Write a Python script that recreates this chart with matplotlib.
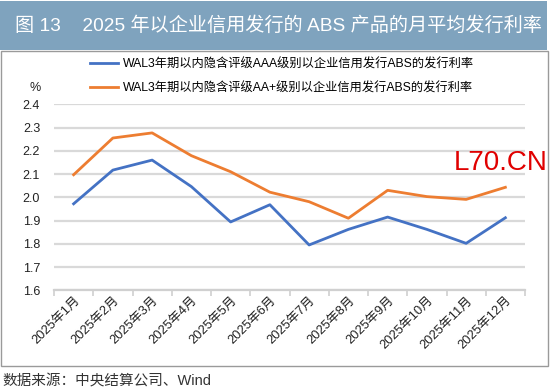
import matplotlib
matplotlib.use("Agg")
import matplotlib.pyplot as plt
from matplotlib.patches import Rectangle

plt.rcParams['font.family'] = ['Liberation Sans', 'Noto Sans CJK SC', 'DejaVu Sans']

months = ["2025年1月", "2025年2月", "2025年3月", "2025年4月", "2025年5月", "2025年6月",
          "2025年7月", "2025年8月", "2025年9月", "2025年10月", "2025年11月", "2025年12月"]
aaa = [1.972, 2.117, 2.160, 2.046, 1.894, 1.968, 1.795, 1.862, 1.915, 1.862, 1.802, 1.912]
aa_plus = [2.097, 2.255, 2.277, 2.179, 2.110, 2.022, 1.981, 1.910, 2.030, 2.003, 1.991, 2.043]
series_names = ["WAL3年期以内隐含评级AAA级别以企业信用发行ABS的发行利率",
                "WAL3年期以内隐含评级AA+级别以企业信用发行ABS的发行利率"]
yticks = [1.6, 1.7, 1.8, 1.9, 2.0, 2.1, 2.2, 2.3, 2.4]
title = "图 13    2025 年以企业信用发行的 ABS 产品的月平均发行利率"
source = "数据来源：中央结算公司、Wind"

W, H = 550, 387
fig = plt.figure(figsize=(W / 100, H / 100), dpi=100, facecolor="white")

def fx(px):
    return px / W

def fy(py):
    return 1 - py / H

# Title bar
fig.patches.append(Rectangle((fx(0), fy(49.5)), fx(547), (49.5 - 1) / H,
                             transform=fig.transFigure, facecolor="#7fa3be",
                             edgecolor="none", zorder=0))
fig.text(fx(15), fy(26), title, color="white", fontsize=13.8, va="center", ha="left")

# Chart box
fig.patches.append(Rectangle((fx(1), fy(365.5)), fx(547), (365.5 - 50.5) / H,
                             transform=fig.transFigure, facecolor="none",
                             edgecolor="#9a9a9a", linewidth=1.0, zorder=0))

# Footer
fig.text(fx(2), fy(381), source, color="#333333", fontsize=10.5, va="center", ha="left")

left, right, top, bottom = 54, 525, 104.3, 290.3
ax = fig.add_axes([fx(left), fy(bottom), (right - left) / W, (bottom - top) / H])
ax.set_facecolor("none")

x = list(range(len(months)))
l1, = ax.plot(x, aaa, color="#4472c4", linewidth=2.0, zorder=3)
l2, = ax.plot(x, aa_plus, color="#ed7d31", linewidth=2.0, zorder=3)

ax.set_xlim(-0.5, len(months) - 0.5)
ax.set_ylim(1.6, 2.4)
ax.set_yticks(yticks)
ax.set_yticklabels([f"{v:.1f}" for v in yticks], fontsize=9, color="#222222")
ax.tick_params(axis="y", length=0, pad=10)
ax.grid(axis="y", color="#d9d9d9", linewidth=1.6, zorder=1)

ax.set_xticks([i - 0.5 for i in range(len(months) + 1)])
ax.set_xticklabels([])
ax.tick_params(axis="x", which="major", length=4, width=1.2, color="#d0d0d0", direction="out")
ax.set_xticks(x, minor=True)
ax.set_xticklabels(months, minor=True, rotation=45, ha="right", va="top",
                   rotation_mode="anchor", fontsize=9.3, color="#222222")
ax.tick_params(axis="x", which="minor", length=0, pad=3)

for s in ["left", "right", "top"]:
    ax.spines[s].set_visible(False)
ax.spines["bottom"].set_color("#d0d0d0")
ax.spines["bottom"].set_linewidth(1.6)

# "%" unit label
fig.text(fx(35), fy(88), "%", fontsize=9, color="#222222", ha="center", va="center")

# Legend
fig.legend([l1, l2], series_names, loc="upper left",
           bbox_to_anchor=(fx(90), fy(58.5)), frameon=False, fontsize=8.8,
           handlelength=2.3, handletextpad=0.4, labelspacing=0.95,
           borderaxespad=0, borderpad=0)

# Watermark
fig.text(fx(454), fy(163), "L70.CN", color="#e00000", fontsize=20, ha="left", va="center")

fig.savefig("out.png", dpi=100)
